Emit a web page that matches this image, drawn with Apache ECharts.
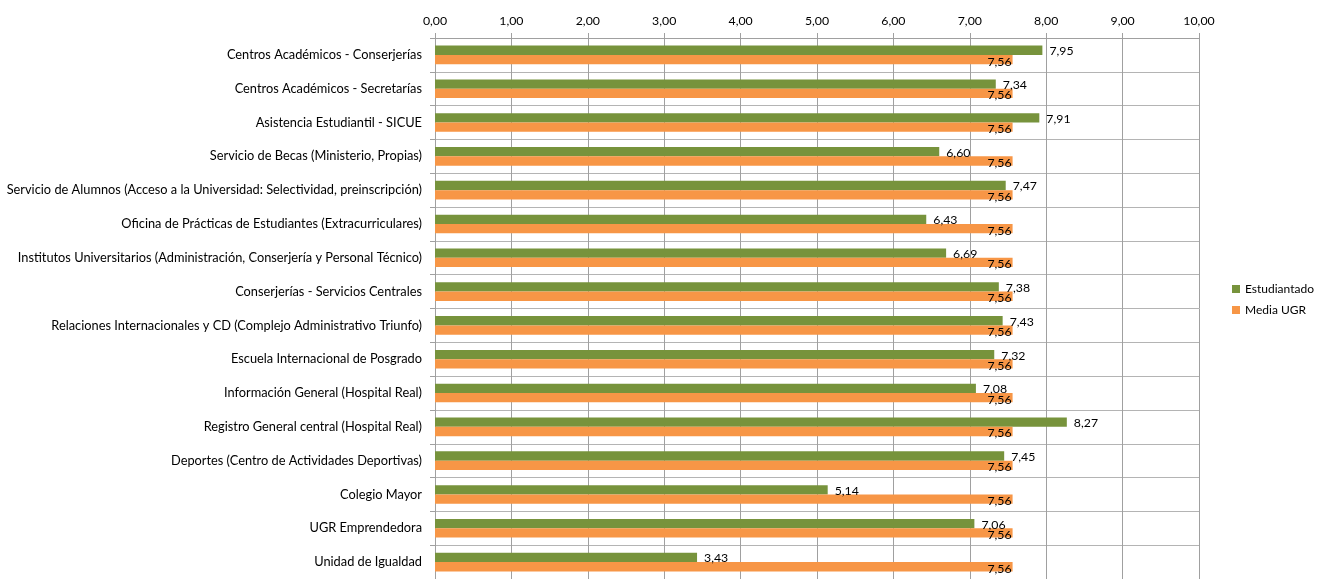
<!DOCTYPE html>
<html>
<head>
<meta charset="utf-8">
<script src="https://cdn.jsdelivr.net/npm/echarts@6/dist/echarts.min.js"></script>
<style>html,body{margin:0;padding:0;background:#fff}#c{width:1317px;height:579px}</style>
</head>
<body>
<div id="c"></div>
<script>
const categories = [
  "Centros Académicos - Conserjerías",
  "Centros Académicos - Secretarías",
  "Asistencia Estudiantil - SICUE",
  "Servicio de Becas (Ministerio, Propias)",
  "Servicio de Alumnos (Acceso a la Universidad: Selectividad, preinscripción)",
  "Oficina de Prácticas de Estudiantes (Extracurriculares)",
  "Institutos Universitarios (Administración, Conserjería y Personal Técnico)",
  "Conserjerías - Servicios Centrales",
  "Relaciones Internacionales y CD (Complejo Administrativo Triunfo)",
  "Escuela Internacional de Posgrado",
  "Información General (Hospital Real)",
  "Registro General central (Hospital Real)",
  "Deportes (Centro de Actividades Deportivas)",
  "Colegio Mayor",
  "UGR Emprendedora",
  "Unidad de Igualdad"
];
const estudiantado = [7.95, 7.34, 7.91, 6.60, 7.47, 6.43, 6.69, 7.38, 7.43, 7.32, 7.08, 8.27, 7.45, 5.14, 7.06, 3.43];
const mediaUGR = [7.56, 7.56, 7.56, 7.56, 7.56, 7.56, 7.56, 7.56, 7.56, 7.56, 7.56, 7.56, 7.56, 7.56, 7.56, 7.56];
const seriesNames = ["Estudiantado", "Media UGR"];

const fmt = v => Number(v).toFixed(2).replace('.', ',');
const FONT = 'Lato';
const chart = echarts.init(document.getElementById('c'), null, {renderer: 'canvas'});
chart.setOption({
  animation: false,
  textStyle: {fontFamily: FONT, color: '#000'},
  grid: {left: 435, right: 118, top: 38, bottom: -7, containLabel: false},
  legend: {
    orient: 'vertical', left: 1232, top: 283, padding: 0, itemWidth: 8, itemHeight: 8, itemGap: 9,
    icon: 'rect',
    textStyle: {fontFamily: FONT, fontSize: 12, color: '#000'},
    data: seriesNames
  },
  xAxis: {
    type: 'value', position: 'top', min: 0, max: 10, interval: 1,
    axisLine: {show: true, lineStyle: {color: '#a0a0a0'}},
    axisTick: {show: true, length: 5, lineStyle: {color: '#a0a0a0'}},
    axisLabel: {formatter: v => fmt(v), fontFamily: FONT, fontSize: 12.3, color: '#000', margin: 11},
    splitLine: {show: true, lineStyle: {color: '#a0a0a0', width: 1}}
  },
  yAxis: {
    type: 'category', inverse: true, data: categories,
    axisLine: {show: true, lineStyle: {color: '#a0a0a0'}},
    axisTick: {show: true, length: 5, lineStyle: {color: '#a0a0a0'}},
    axisLabel: {fontFamily: FONT, fontSize: 12.8, color: '#000', margin: 13},
    splitLine: {show: true, lineStyle: {color: '#b4b4b4', width: 1}}
  },
  series: [
    {
      name: seriesNames[0], type: 'bar', data: estudiantado,
      barGap: '0%', barCategoryGap: '45%',
      itemStyle: {color: '#77933C'},
      label: {show: true, position: 'right', distance: 7, formatter: p => fmt(p.value),
        fontFamily: FONT, fontSize: 12.3, color: '#000', offset: [0, 1]}
    },
    {
      name: seriesNames[1], type: 'bar', data: mediaUGR,
      barGap: '0%', barCategoryGap: '45%',
      itemStyle: {color: '#F79646'},
      label: {show: true, position: 'insideRight', distance: 1, formatter: p => fmt(p.value),
        fontFamily: FONT, fontSize: 12.3, color: '#000', offset: [0, 2]}
    }
  ]
});
</script>
</body>
</html>
